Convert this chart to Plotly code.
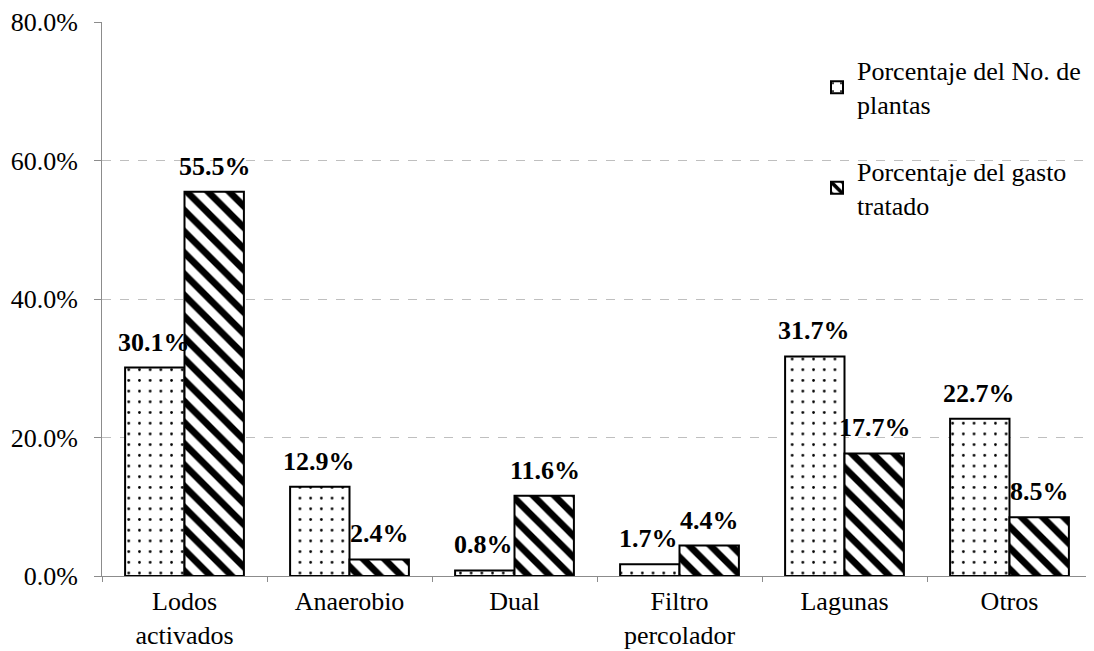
import plotly.graph_objects as go

categories = ["Lodos<br>activados", "Anaerobio", "Dual", "Filtro<br>percolador", "Lagunas", "Otros"]
plantas = [0.301, 0.129, 0.008, 0.017, 0.317, 0.227]
gasto = [0.555, 0.024, 0.116, 0.044, 0.177, 0.085]
series_names = ["Porcentaje del No. de<br>plantas", "Porcentaje del gasto<br>tratado"]
y_ticks = [0, 0.2, 0.4, 0.6, 0.8]
title_text = "Distribución de los procesos"

FONT = "Liberation Serif, Times New Roman, serif"
FS = 26

fig = go.Figure()
fig.add_trace(go.Bar(
    x=categories, y=plantas, name=series_names[0], legendgroup="a",
    marker=dict(color="white", line=dict(color="black", width=2),
                pattern=dict(shape=".", fgcolor="black", bgcolor="white", fgopacity=1,
                             size=10.7, solidity=0.05)),
))
fig.add_trace(go.Bar(
    x=categories, y=gasto, name=series_names[1], legendgroup="b",
    marker=dict(color="white", line=dict(color="black", width=2),
                pattern=dict(shape="\\", fgcolor="black", bgcolor="white", fgopacity=1,
                             size=15, solidity=0.45)),
))

# value labels above each bar
for vals, shift in ((plantas, -31), (gasto, 30)):
    for c, v in zip(categories, vals):
        fig.add_annotation(
            x=c, y=v, xref="x", yref="y", xshift=shift, yshift=9,
            xanchor="center", yanchor="bottom", showarrow=False,
            text=f"<b>{v*100:.1f}%</b>",
            font=dict(family=FONT, size=FS, color="black"),
        )

fig.add_annotation(
    text=f"<b>{title_text}</b>", xref="paper", yref="paper",
    x=(470 - 94) / 990, y=1 + (14 - 2) / 554, xanchor="center", yanchor="bottom",
    showarrow=False, font=dict(family=FONT, size=32, color="black"),
)

fig.update_layout(
    width=1086, height=643,
    margin=dict(l=94, r=2, t=14, b=75, autoexpand=False),
    paper_bgcolor="white", plot_bgcolor="white",
    font=dict(family=FONT, size=FS, color="black"),
    barmode="group", bargap=0.28, bargroupgap=0,
    showlegend=True,
    legend=dict(x=(809 - 94) / 990, y=0.955, xanchor="left", yanchor="top",
                traceorder="grouped", tracegroupgap=30,
                font=dict(family=FONT, size=FS, color="black"),
                bgcolor="rgba(0,0,0,0)", itemwidth=30),
)
fig.update_yaxes(
    range=[0, 0.8], tickvals=y_ticks, tickformat=".1%", automargin=False,
    showgrid=True, gridcolor="#bfbfbf", griddash="dash", gridwidth=1,
    showline=True, linecolor="#8c8c8c", linewidth=1,
    ticks="outside", ticklen=7, tickcolor="#8c8c8c", ticklabelstandoff=11,
    zeroline=False, tickfont=dict(family=FONT, size=FS, color="black"),
)
fig.update_xaxes(
    showline=True, linecolor="#8c8c8c", linewidth=1, automargin=False,
    ticks="outside", ticklen=5, tickcolor="#8c8c8c", tickson="boundaries",
    ticklabelstandoff=2,
    tickfont=dict(family=FONT, size=FS, color="black"),
)

fig.write_html("out.html")
